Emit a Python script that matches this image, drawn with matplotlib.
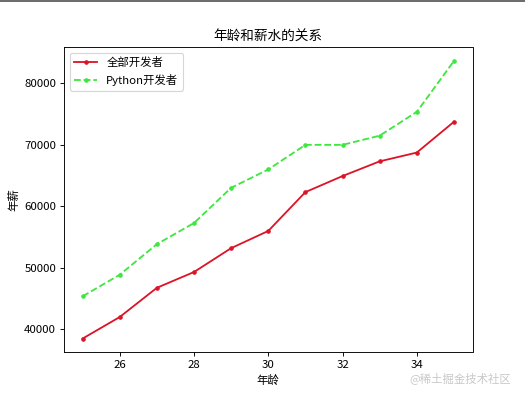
import matplotlib

matplotlib.use("Agg")
import matplotlib.pyplot as plt  # noqa: E402
from matplotlib.lines import Line2D  # noqa: E402

plt.rcParams["font.family"] = ["Noto Sans CJK SC", "DejaVu Sans"]
plt.rcParams["axes.unicode_minus"] = False

ages_x = [25, 26, 27, 28, 29, 30, 31, 32, 33, 34, 35]
dev_y = [38496, 42000, 46752, 49320, 53200, 56000, 62316, 64928, 67317, 68748, 73752]
py_dev_y = [45372, 48876, 53850, 57287, 63016, 65998, 70003, 70000, 71496, 75370, 83640]

DPI = 525 / 6.4
fig, ax = plt.subplots(figsize=(6.4, 396 / DPI), dpi=DPI)
fig.subplots_adjust(left=0.122, right=0.9, bottom=0.11, top=0.881)

ax.plot(ages_x, dev_y, color="#dc1428", marker=".", linewidth=1.6, label="全部开发者")
ax.plot(ages_x, py_dev_y, color="#3fe63f", linestyle="--", marker=".", linewidth=1.6,
        label="Python开发者")

ax.set_title("年龄和薪水的关系")
ax.set_xlabel("年龄")
ax.set_ylabel("年薪")
ax.legend(loc="upper left")

# screenshot artefacts: top border and watermark
fig.add_artist(Line2D([0, 1], [0.998, 0.998], transform=fig.transFigure,
                      color="#555555", linewidth=1.5))
fig.text(0.973, 0.03, "@稀土掘金技术社区", ha="right", va="bottom",
         color="#c8c8c8", fontsize=10)

fig.savefig("out.png", dpi=DPI)
plt.close(fig)
